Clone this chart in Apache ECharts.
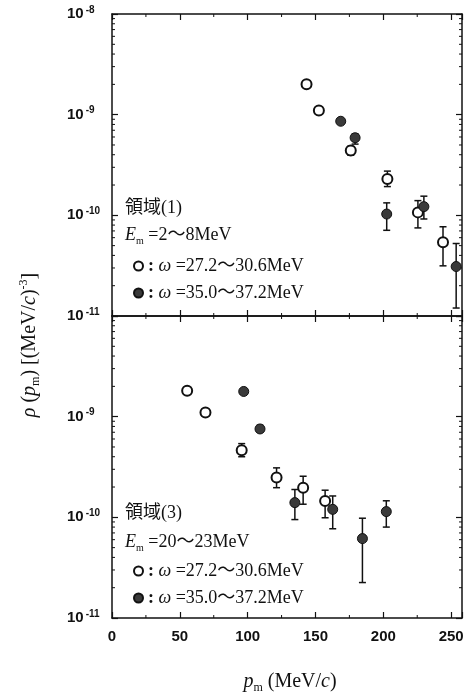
<!DOCTYPE html>
<html><head><meta charset="utf-8">
<script src="https://cdn.jsdelivr.net/npm/echarts@6/dist/echarts.min.js"></script>
<style>html,body{margin:0;padding:0;background:#fff}#c{width:468px;height:699px}</style>
</head><body><div id="c"></div>
<script>
// Each row: [p_m (MeV/c), rho, error-bar low, error-bar high]
const region1Open = [
  [143.4, 2.0e-9, 2.0e-9, 2.0e-9],
  [152.5, 1.1e-9, 1.1e-9, 1.1e-9],
  [176.0, 4.4e-10, 3.95e-10, 4.85e-10],
  [203.0, 2.3e-10, 1.93e-10, 2.75e-10],
  [225.5, 1.07e-10, 7.5e-11, 1.4e-10],
  [244.0, 5.4e-11, 3.15e-11, 7.7e-11]
];
const region1Filled = [
  [168.6, 8.6e-10, 8.6e-10, 8.6e-10],
  [179.2, 5.9e-10, 5.1e-10, 6.45e-10],
  [202.5, 1.03e-10, 7.1e-11, 1.33e-10],
  [229.9, 1.22e-10, 9.2e-11, 1.55e-10],
  [253.7, 3.1e-11, 1.2e-11, 5.25e-11]
];
const region3Open = [
  [55.4, 1.81e-9, 1.81e-9, 1.81e-9],
  [68.9, 1.10e-9, 1.10e-9, 1.10e-9],
  [95.6, 4.65e-10, 4.0e-10, 5.4e-10],
  [121.3, 2.49e-10, 1.97e-10, 3.1e-10],
  [140.9, 1.97e-10, 1.35e-10, 2.56e-10],
  [157.1, 1.45e-10, 9.9e-11, 1.86e-10]
];
const region3Filled = [
  [97.1, 1.78e-9, 1.78e-9, 1.78e-9],
  [109.1, 7.55e-10, 7.0e-10, 8.2e-10],
  [134.8, 1.40e-10, 9.5e-11, 1.89e-10],
  [162.7, 1.2e-10, 7.7e-11, 1.63e-10],
  [184.6, 6.15e-11, 2.25e-11, 9.8e-11],
  [202.2, 1.14e-10, 8.0e-11, 1.46e-10]
];
const xTickLabels = [0, 50, 100, 150, 200, 250];
const xMinorTicks = [25, 75, 125, 175, 225];
const yDecades = [-11, -10, -9];
const yMinorMultipliers = [2, 3, 4, 5, 6, 7, 8, 9];
const openName = 'ω =27.2〜30.6MeV';
const filledName = 'ω =35.0〜37.2MeV';
const panelTitles = ['領域(1)', '領域(3)'];
const emRanges = ['=2〜8MeV', '=20〜23MeV'];

const xMin = 0, xMax = 258, yMin = 1e-11, yMax = 1e-8;
const serif = "'Liberation Serif','Noto Sans CJK JP',serif";
const sans = "'Liberation Sans',Arial,sans-serif";
const ink = '#111';

const chart = echarts.init(document.getElementById('c'), null, {renderer: 'canvas'});

const grids = [
  {left: 112, top: 14, width: 350, height: 302},
  {left: 112, top: 316, width: 350, height: 302}
];

function xAxisDef(gi, pos, showLabel) {
  return {
    type: 'value', gridIndex: gi, position: pos, min: xMin, max: xMax, interval: 50,
    axisLine: {show: true, onZero: false, lineStyle: {color: ink, width: 1.5}},
    axisTick: {show: true, inside: true, length: 6, lineStyle: {color: ink, width: 1.2}},
    splitLine: {show: false},
    axisLabel: {
      show: showLabel, margin: 11, color: ink, fontFamily: sans, fontWeight: 'bold', fontSize: 15,
      formatter: v => (xTickLabels.indexOf(v) >= 0 ? String(v) : '')
    }
  };
}
function yAxisDef(gi, pos, showLabel, hideTop) {
  return {
    type: 'log', logBase: 10, gridIndex: gi, position: pos, min: yMin, max: yMax,
    axisLine: {show: true, onZero: false, lineStyle: {color: ink, width: 1.5}},
    axisTick: {show: true, inside: true, length: 6, lineStyle: {color: ink, width: 1.2}},
    splitLine: {show: false},
    axisLabel: {
      show: showLabel, align: 'left', margin: 45, color: ink,
      formatter: v => {
        const e = Math.round(Math.log10(v));
        if (hideTop && e === -8) return '';
        return '{b|10}{s|' + e + '}';
      },
      rich: {
        b: {fontFamily: sans, fontWeight: 'bold', fontSize: 15, lineHeight: 18, color: ink},
        s: {fontFamily: sans, fontWeight: 'bold', fontSize: 10, lineHeight: 10, verticalAlign: 'top', color: ink, padding: [0, 0, 0, 2]}
      }
    }
  };
}

function errRender(params, api) {
  const x = api.value(0), lo = api.value(1), hi = api.value(2);
  const a = api.coord([x, hi]), b = api.coord([x, lo]);
  const cap = 3.5;
  const st = () => ({stroke: ink, lineWidth: 1.5});
  return {type: 'group', children: [
    {type: 'line', shape: {x1: a[0], y1: a[1], x2: b[0], y2: b[1]}, style: st()},
    {type: 'line', shape: {x1: a[0] - cap, y1: a[1], x2: a[0] + cap, y2: a[1]}, style: st()},
    {type: 'line', shape: {x1: b[0] - cap, y1: b[1], x2: b[0] + cap, y2: b[1]}, style: st()}
  ]};
}

const minorTickData = [];
yDecades.forEach(e => yMinorMultipliers.forEach(k => minorTickData.push([0, k * Math.pow(10, e), 0])));
xMinorTicks.forEach(v => minorTickData.push([v, 1e-9, 1]));

function tickRender(params, api) {
  const kind = api.value(2);
  const len = 3;
  const st = () => ({stroke: ink, lineWidth: 1});
  if (kind === 0) {
    const v = api.value(1);
    const l = api.coord([xMin, v]), r = api.coord([xMax, v]);
    return {type: 'group', children: [
      {type: 'line', shape: {x1: l[0], y1: l[1], x2: l[0] + len, y2: l[1]}, style: st()},
      {type: 'line', shape: {x1: r[0] - len, y1: r[1], x2: r[0], y2: r[1]}, style: st()}
    ]};
  }
  const v = api.value(0);
  const b = api.coord([v, yMin]), t = api.coord([v, yMax]);
  return {type: 'group', children: [
    {type: 'line', shape: {x1: b[0], y1: b[1], x2: b[0], y2: b[1] - len}, style: st()},
    {type: 'line', shape: {x1: t[0], y1: t[1], x2: t[0], y2: t[1] + len}, style: st()}
  ]};
}

function panelSeries(gi, openData, filledData) {
  const xi = gi * 2, yi = gi * 2;
  const errs = openData.concat(filledData).filter(d => d[2] !== d[3]).map(d => [d[0], d[2], d[3]]);
  return [
    {type: 'custom', xAxisIndex: xi, yAxisIndex: yi, renderItem: tickRender, data: minorTickData,
     encode: {x: 0, y: 1}, silent: true, z: 1, clip: false},
    {type: 'custom', xAxisIndex: xi, yAxisIndex: yi, renderItem: errRender, data: errs,
     encode: {x: 0, y: [1, 2]}, silent: true, z: 2},
    {type: 'scatter', name: openName, xAxisIndex: xi, yAxisIndex: yi, symbol: 'circle', symbolSize: 10,
     itemStyle: {color: '#fff', borderColor: ink, borderWidth: 2, opacity: 1},
     data: openData.map(d => [d[0], d[1]]), z: 3},
    {type: 'scatter', name: filledName, xAxisIndex: xi, yAxisIndex: yi, symbol: 'circle', symbolSize: 10,
     itemStyle: {color: '#3a3a3a', borderColor: ink, borderWidth: 1, opacity: 1},
     data: filledData.map(d => [d[0], d[1]]), z: 3}
  ];
}

function legendDef(top) {
  return {
    left: 128, top: top, orient: 'vertical', itemGap: 7, itemWidth: 9, itemHeight: 9, itemTextGap: 18,
    icon: 'circle', selectedMode: false, data: [openName, filledName],
    textStyle: {fontFamily: serif, fontSize: 18, lineHeight: 20, color: ink,
      rich: {w: {fontFamily: serif, fontSize: 18, fontStyle: 'italic', color: ink},
             c: {fontFamily: serif, fontSize: 18, fontWeight: 'bold', color: ink}}},
    formatter: name => '{c|:} {w|ω}' + name.slice(1)
  };
}

function panelText(i, yTitle, yEm) {
  return [
    {type: 'text', x: 125, y: yTitle, style: {text: panelTitles[i], fontFamily: serif, fontSize: 18, fill: ink, verticalAlign: 'middle'}},
    {type: 'text', x: 125, y: yEm, style: {
      text: '{e|E}{s|m} ' + emRanges[i], fontFamily: serif, fontSize: 18, fill: ink, verticalAlign: 'middle',
      rich: {e: {fontFamily: serif, fontSize: 18, fontStyle: 'italic', lineHeight: 22, fill: ink},
             s: {fontFamily: serif, fontSize: 10, lineHeight: 10, verticalAlign: 'bottom', fill: ink}}
    }}
  ];
}

const option = {
  animation: false,
  backgroundColor: '#fff',
  grid: grids,
  xAxis: [xAxisDef(0, 'bottom', false), xAxisDef(0, 'top', false), xAxisDef(1, 'bottom', true), xAxisDef(1, 'top', false)],
  yAxis: [yAxisDef(0, 'left', true, false), yAxisDef(0, 'right', false, false), yAxisDef(1, 'left', true, true), yAxisDef(1, 'right', false, false)],
  legend: [legendDef(251), legendDef(556)],
  series: panelSeries(0, region1Open, region1Filled).concat(panelSeries(1, region3Open, region3Filled)),
  graphic: [].concat(panelText(0, 208, 235), panelText(1, 513, 542), [
    {type: 'text', x: 30, y: 345, rotation: Math.PI / 2, style: {
      text: '{i|ρ} ({i|p}{sub|m}) [(MeV/{i|c}){sup|-3}]', fontFamily: serif, fontSize: 20, fill: ink,
      align: 'center', verticalAlign: 'middle',
      rich: {i: {fontFamily: serif, fontSize: 20, fontStyle: 'italic', lineHeight: 24, fill: ink},
             sub: {fontFamily: serif, fontSize: 12, lineHeight: 12, verticalAlign: 'bottom', fill: ink},
             sup: {fontFamily: serif, fontSize: 12, lineHeight: 12, verticalAlign: 'top', fill: ink}}
    }},
    {type: 'text', x: 290, y: 682, style: {
      text: '{i|p}{sub|m} (MeV/{i|c})', fontFamily: serif, fontSize: 20, fill: ink,
      align: 'center', verticalAlign: 'middle',
      rich: {i: {fontFamily: serif, fontSize: 20, fontStyle: 'italic', lineHeight: 24, fill: ink},
             sub: {fontFamily: serif, fontSize: 12, lineHeight: 12, verticalAlign: 'bottom', fill: ink}}
    }}
  ])
};
chart.setOption(option);
</script></body></html>
